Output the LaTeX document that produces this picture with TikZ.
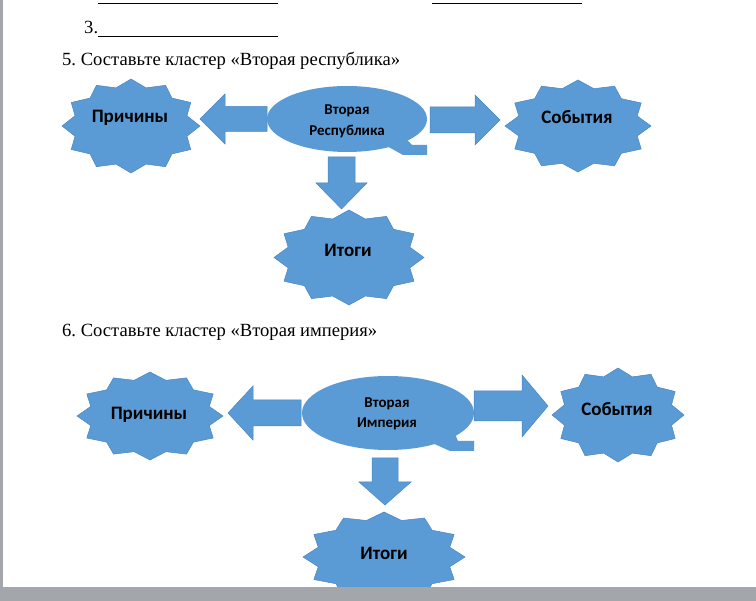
\documentclass[tikz,border=0pt]{standalone}
\usepackage{fontspec}
\setmainfont{Liberation Serif}
\newfontfamily\lblfont{Carlito}
\definecolor{shapeblue}{HTML}{5B9BD5}
\definecolor{shapeedge}{HTML}{4A86C2}
\definecolor{framegrey}{HTML}{A3A6AA}
\newcommand\sealshape[4]{%
  \path[blueshape] ({#1+#3},#2) \foreach \k in {1,...,23}{ -- ({#1+#3*(1-0.16*mod(\k,2))*cos(\k*15)},{#2+#4*(1-0.16*mod(\k,2))*sin(\k*15)}) } -- cycle;}
\frenchspacing
\begin{document}
\begin{tikzpicture}[x=1pt,y=-1pt,
  blueshape/.style={fill=shapeblue, draw=shapeedge, line width=0.5pt, line join=miter},
  ovalshape/.style={fill=shapeblue},
  starlabel/.style={font=\lblfont\bfseries\fontsize{19}{21}\selectfont, text=black, inner sep=0},
  ovallabel/.style={font=\lblfont\bfseries\fontsize{15}{17}\selectfont, text=black, inner sep=0},
  heading/.style={font=\fontsize{18.6}{21}\selectfont, anchor=base west, inner sep=0},
  rule/.style={line width=0.7pt, black},
]
\fill[white] (0,0) rectangle (756,601);
\useasboundingbox (0,0) rectangle (756,601);

% top lines
\coordinate (l1a) at (98,3); \coordinate (l1b) at (278,3);
\coordinate (l2a) at (432,3); \coordinate (l2b) at (582,3);
\coordinate (l3a) at (98,36); \coordinate (l3b) at (278,36);
\draw[rule] (l1a) -- (l1b);
\draw[rule] (l2a) -- (l2b);
\draw[rule] (l3a) -- (l3b);
\node[heading] (n3) at (84,34) {3.};

% ---------- cluster 1 ----------
\node[heading] (h5) at (62,66) {5. Составьте кластер «Вторая республика»};

\sealshape{131}{126}{69}{47}
\sealshape{578}{126}{73}{46}
\sealshape{349}{257.5}{75}{47.5}

% arrows
\path[blueshape] (267,106.5) -- (225,106.5) -- (225,94) -- (200,119) -- (225,144) -- (225,131.5) -- (267,131.5) -- cycle;
\path[blueshape] (430,107) -- (475,107) -- (475,95) -- (500,120) -- (475,145) -- (475,133) -- (430,133) -- cycle;
\path[blueshape] (328,157) -- (328,183) -- (316,183) -- (341.5,209) -- (367,183) -- (355,183) -- (355,157) -- cycle;

% callout
\fill[ovalshape] (347,119) ellipse [x radius=80, y radius=33];
\fill[ovalshape] (385,145) -- (403,155) -- (427,155) -- (427,145) -- (412,145) -- (405,138) -- cycle;

\node[starlabel] (c1) at (130,118) {Причины};
\node[starlabel] (s1) at (577,117) {События};
\node[starlabel] (i1) at (348,250) {Итоги};
\node[ovallabel] (o1a) at (347,111) {Вторая};
\node[ovallabel] (o1b) at (347,132) {Республика};

% ---------- cluster 2 ----------
\node[heading] (h6) at (62,337) {6. Составьте кластер «Вторая империя»};

\sealshape{150}{416}{73}{44}
\sealshape{618}{415}{66}{47}
\sealshape{384}{557}{81}{45}

\path[blueshape] (301,400) -- (253,400) -- (253,386) -- (228,413) -- (253,440) -- (253,426) -- (301,426) -- cycle;
\path[blueshape] (474,391) -- (522,391) -- (522,375) -- (548,406) -- (522,437) -- (522,421) -- (474,421) -- cycle;
\path[blueshape] (372,458) -- (372,482) -- (359,482) -- (385,505) -- (411,482) -- (398,482) -- (398,458) -- cycle;

\fill[ovalshape] (388,413) ellipse [x radius=86, y radius=37];
\fill[ovalshape] (430,442) -- (450,451) -- (474,451) -- (474,441) -- (458,441) -- (455,434) -- cycle;

\node[starlabel] (c2) at (149,415) {Причины};
\node[starlabel] (s2) at (617,409) {События};
\node[starlabel] (i2) at (384,553) {Итоги};
\node[ovallabel] (o2a) at (387,404) {Вторая};
\node[ovallabel] (o2b) at (387,424) {Империя};

% window frame
\fill[framegrey] (0,587) rectangle (756,601);
\fill[framegrey] (0,0) rectangle (3,601);
\end{tikzpicture}
\end{document}
